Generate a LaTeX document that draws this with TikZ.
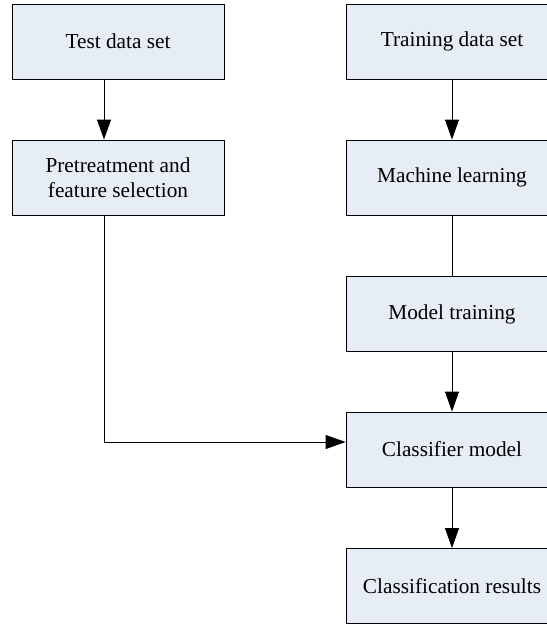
\documentclass[tikz,border=0pt]{standalone}
\usepackage{fontspec}
\setmainfont{Liberation Serif}
\usepackage{xcolor}
\usepackage{tikz}
\usetikzlibrary{positioning,arrows.meta}
\definecolor{boxfill}{RGB}{231,237,247}

\tikzset{
  stagebox/.style={draw, line width=0.9pt, fill=boxfill, minimum width=212pt, minimum height=75pt, align=center, font=\fontsize{21.3}{25}\selectfont},
  flow/.style={line width=0.9pt, -{Triangle[length=20pt, width=14pt]}}
}

\begin{document}
\begin{tikzpicture}[x=1pt, y=-1pt]
\clip (0,0) rectangle (547,625);

% Test branch
\node[stagebox] (test) at (118, 41.5) {Test data set};
\node[stagebox] (pre) at (118, 177.5) {Pretreatment and\\feature selection};

% Training branch
\node[stagebox] (train) at (452, 41.5) {Training data set};
\node[stagebox] (ml) at (452, 177.5) {Machine learning};
\node[stagebox] (mt) at (452, 314) {Model training};

% Classification
\node[stagebox] (clf) at (452, 449.5) {Classifier model};
\node[stagebox] (res) at (452, 586) {Classification results};

% Lane of the left connector
\coordinate (lane) at (104, 0);
\coordinate (join) at (104, 442);

% Arrows
\draw[flow] (test.south -| lane) -- (pre.north -| lane);
\draw[flow] (train) -- (ml);
\draw[line width=0.9pt] (ml) -- (mt);
\draw[flow] (mt) -- (clf);
\draw[flow] (pre.south -| lane) -- (join) -- (join -| clf.west);
\draw[flow] (clf) -- (res);
\end{tikzpicture}
\end{document}
